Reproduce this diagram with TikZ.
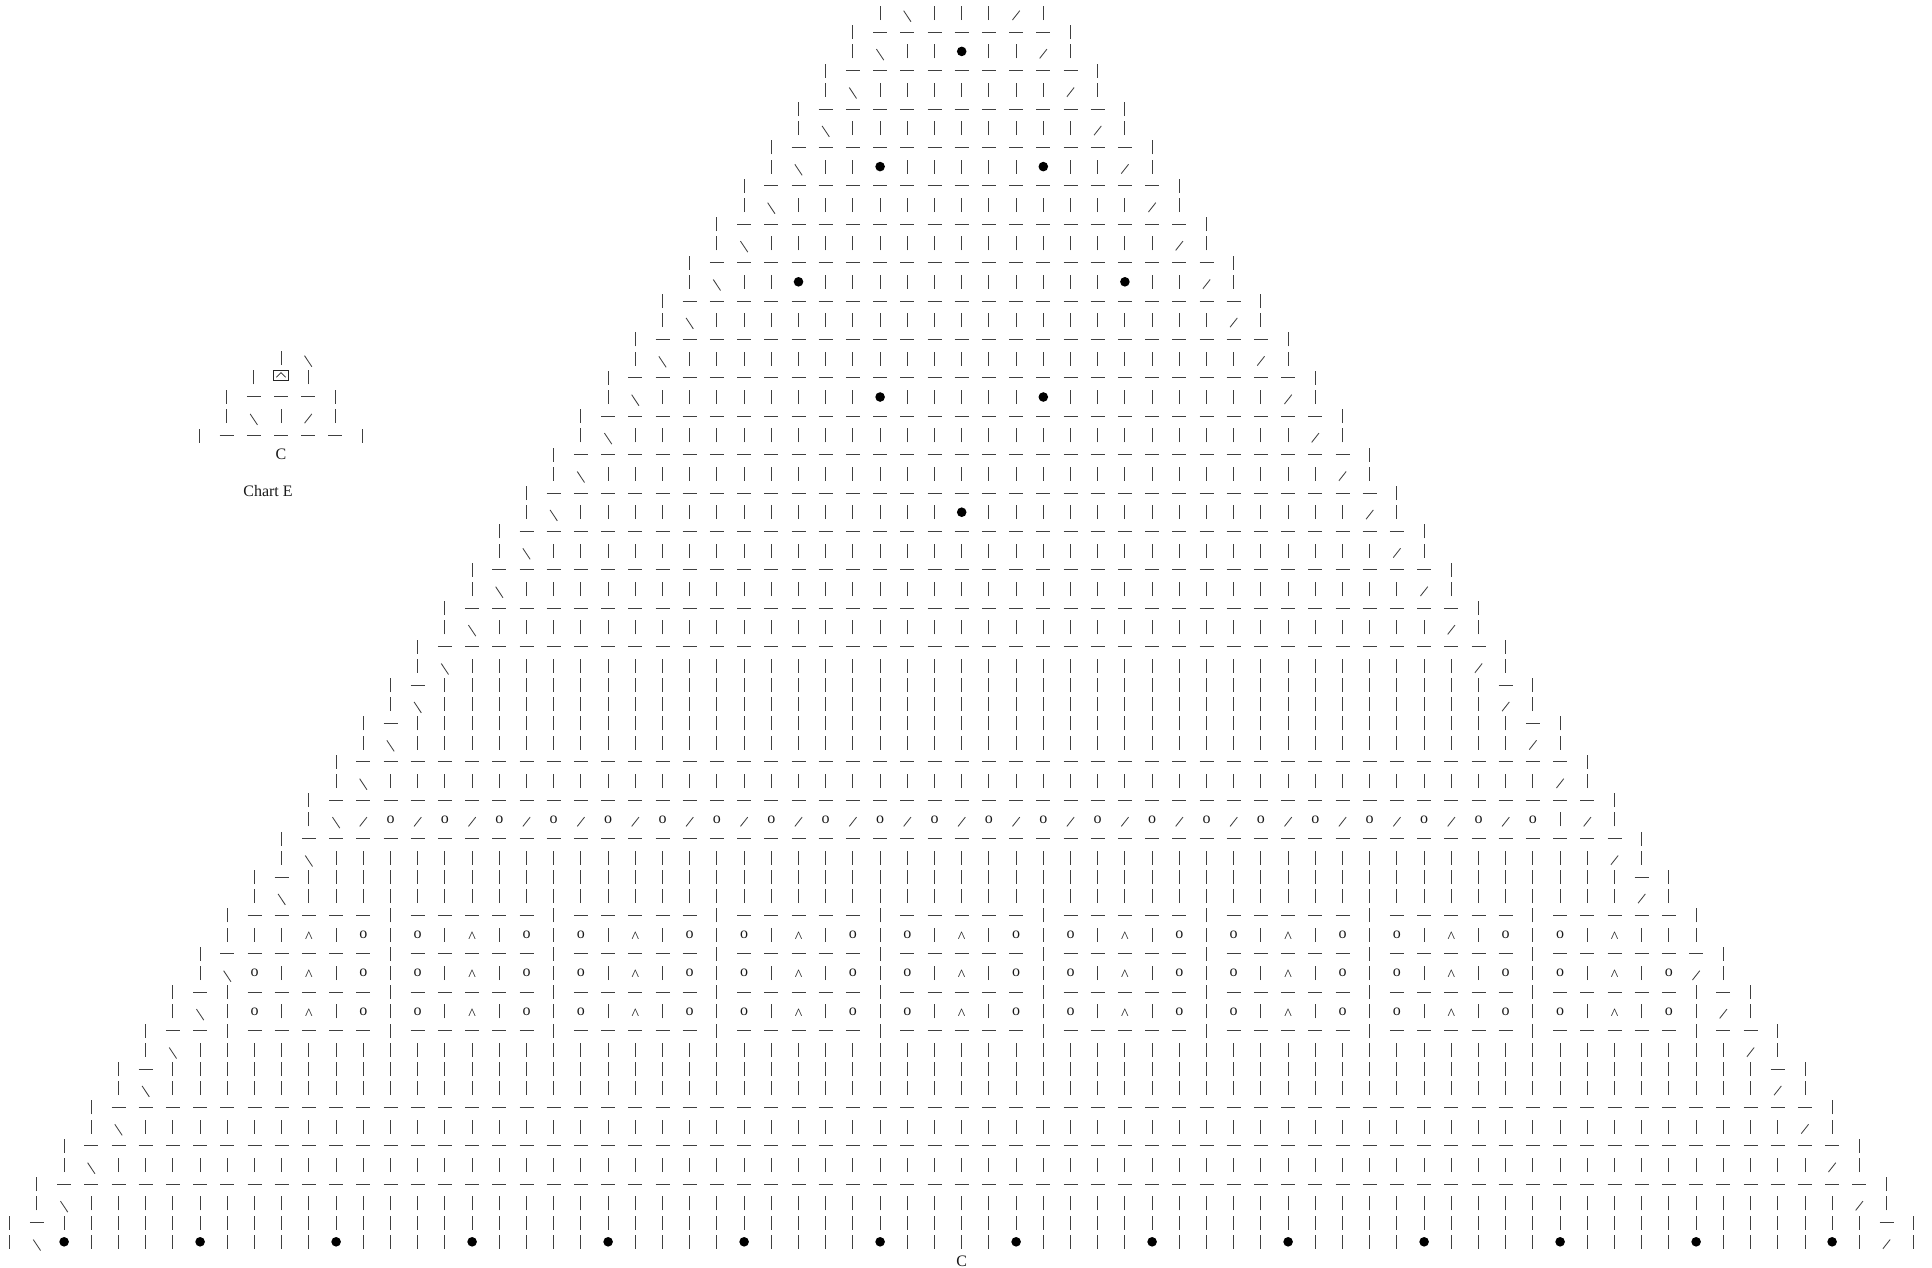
\documentclass[tikz,border=0pt]{standalone}
\usepackage{fontspec}
\setmainfont{Liberation Serif}
\tikzset{
  rule/.style={line width=.85pt,black!75},
  glyph/.style={inner sep=0pt,font=\fontsize{16pt}{18pt}\selectfont,text=black!90},
  spot/.style={fill=black,draw=none,circle,minimum size=9.6pt,inner sep=0pt}
}
\newcommand\vb[2]{\draw[rule] (#1,#2) +(0,-7pt) -- +(0,7pt);}
\newcommand\hb[2]{\draw[rule] (#1,#2) +(-7pt,0) -- +(7pt,0);}
\newcommand\bsl[2]{\draw[rule] (#1,#2) +(-3.65pt,2.3pt) -- +(3.65pt,-8.7pt);}
\newcommand\fsl[2]{\draw[rule] (#1,#2) +(-3.65pt,-7pt) -- +(3.65pt,2.3pt);}
\newcommand\oc[2]{\node[glyph] (o#1r#2) at (#1,#2) {o};}
\newcommand\ac[2]{\node[glyph,anchor=base,yshift=-7.6pt] (a#1r#2) at (#1,#2) {\char`\^};}
% dots
\foreach \k/\c in {2/0,8/-3,8/3,14/-6,14/6,20/-3,20/3,26/0,
  64/-33,64/-28,64/-23,64/-18,64/-13,64/-8,64/-3,64/2,64/7,64/12,64/17,64/22,64/27,64/32}{%
  \expandafter\gdef\csname dt\k:\c\endcsname{}}
% row builders
\newcommand\hrow[2]{% k N : bars at ends, dashes between
  \vb{-#2}{#1}\vb{#2}{#1}%
  \pgfmathtruncatemacro\m{#2-1}%
  \foreach \c in {-\m,...,\m}{\hb{\c}{#1}}}
\newcommand\vrow[2]{% k N : bars, \ / at the sides, bars between (or dots)
  \vb{-#2}{#1}\vb{#2}{#1}%
  \pgfmathtruncatemacro\m{#2-1}%
  \pgfmathtruncatemacro\mm{#2-2}%
  \bsl{-\m}{#1}\fsl{\m}{#1}%
  \foreach \c in {-\mm,...,\mm}{%
    \ifcsname dt#1:\c\endcsname
      \node[spot] (d\c r#1) at (\c,#1) {};
    \else\vb{\c}{#1}\fi}}
\newcommand\zrow[2]{% k N : bars, one dash each side, bars between
  \vb{-#2}{#1}\vb{#2}{#1}%
  \pgfmathtruncatemacro\m{#2-1}%
  \pgfmathtruncatemacro\mm{#2-2}%
  \hb{-\m}{#1}\hb{\m}{#1}%
  \foreach \c in {-\mm,...,\mm}{\vb{\c}{#1}}}
\newcommand\drow[2]{% k lim : dashes, bars at 3 mod 6 within 21
  \foreach \c in {-#2,...,#2}{%
    \pgfmathtruncatemacro\r{mod(abs(\c),6)}%
    \pgfmathtruncatemacro\b{abs(\c)<22 && \r==3 ? 1 : 0}%
    \ifnum\b=1 \vb{\c}{#1}\else\hb{\c}{#1}\fi}}
\newcommand\prow[2]{% k lim : ^ | o | o | pattern
  \foreach \c in {-#2,...,#2}{%
    \pgfmathtruncatemacro\r{mod(abs(\c),6)}%
    \ifcase\r \ac{\c}{#1}\or\vb{\c}{#1}\or\oc{\c}{#1}\or\vb{\c}{#1}\or\oc{\c}{#1}\or\vb{\c}{#1}\fi}}
\begin{document}
\begin{tikzpicture}
\useasboundingbox (0,0) rectangle (1932pt,-1267pt);
\begin{scope}[x=27.2pt,y=-19.2pt,shift={(961.7pt,-13pt)}]
  \foreach \k in {1,3,...,33,39,41,43,57,59,61}{%
    \pgfmathtruncatemacro\n{(\k+7)/2}\hrow{\k}{\n}}
  \foreach \k in {0,2,...,40,44,46,54,56,58,60,62,64}{%
    \pgfmathtruncatemacro\n{(\k+6)/2}\vrow{\k}{\n}}
  \foreach \k/\n in {35/21,37/22,45/26,55/31,63/35}{\zrow{\k}{\n}}
  % o / row
  \vb{-24}{42}\vb{24}{42}\bsl{-23}{42}\fsl{-22}{42}\vb{22}{42}\fsl{23}{42}
  \foreach \c in {-21,-19,...,21}{\oc{\c}{42}}
  \foreach \c in {-20,-18,...,20}{\fsl{\c}{42}}
  % chart block rows 47--53
  \vb{-27}{47}\vb{27}{47}\drow{47}{26}
  \vb{-27}{48}\vb{27}{48}\vb{-26}{48}\vb{26}{48}\prow{48}{25}
  \vb{-28}{49}\vb{28}{49}\drow{49}{27}
  \vb{-28}{50}\vb{28}{50}\bsl{-27}{50}\fsl{27}{50}\prow{50}{26}
  \vb{-29}{51}\vb{29}{51}\hb{-28}{51}\hb{28}{51}\vb{-27}{51}\vb{27}{51}\drow{51}{26}
  \vb{-29}{52}\vb{29}{52}\bsl{-28}{52}\fsl{28}{52}\vb{-27}{52}\vb{27}{52}\prow{52}{26}
  \vb{-30}{53}\vb{30}{53}\hb{-29}{53}\hb{29}{53}\hb{-28}{53}\hb{28}{53}\vb{-27}{53}\vb{27}{53}\drow{53}{26}
  \node[glyph] (bottomC) at (0,65) {C};
\end{scope}
\begin{scope}[x=27.2pt,y=-19.4pt,shift={(281pt,-358pt)}]
  \vb{0}{0}\bsl{1}{0}
  \vb{-1}{1}\vb{1}{1}
  \node[draw=black!85,line width=1pt,minimum width=14.5pt,minimum height=10.5pt,inner sep=0pt,yshift=1.9pt] (boxed) at (0,1) {};
  \draw[line width=.7pt,black!85] ([xshift=-4.6pt,yshift=-1.8pt]boxed.center) -- ([yshift=2.8pt]boxed.center) -- ([xshift=4.6pt,yshift=-1.8pt]boxed.center);
  \vb{-2}{2}\vb{2}{2}\hb{-1}{2}\hb{0}{2}\hb{1}{2}
  \vb{-2}{3}\vb{2}{3}\bsl{-1}{3}\vb{0}{3}\fsl{1}{3}
  \vb{-3}{4}\vb{3}{4}\foreach \c in {-2,...,2}{\hb{\c}{4}}
  \node[glyph] (smallC) at (0,4.95) {C};
\end{scope}
\node[glyph] (chartE) at (268pt,-491pt) {Chart E};
\end{tikzpicture}
\end{document}
